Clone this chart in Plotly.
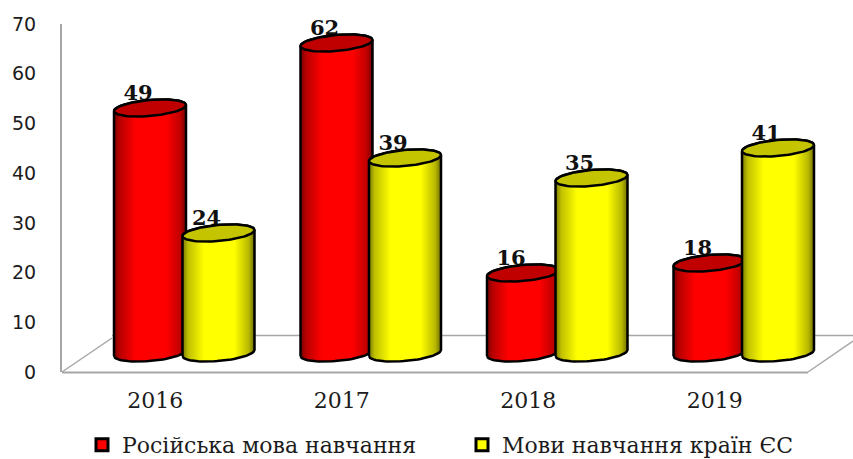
import numpy as np
import plotly.graph_objects as go

categories = ["2016", "2017", "2018", "2019"]
russian = [49, 62, 16, 18]
eu = [24, 39, 35, 41]
series_names = ["Російська мова навчання", "Мови навчання країн ЄС"]
y_ticks = [0, 10, 20, 30, 40, 50, 60, 70]

W, H = 853, 459
L, R, T, B = 62, 808, 24, 372
PLOT_R = 853
PX_X = (R - L) / 4
PX_Y = 5.0
Y_SHIFT = 19
X_SHIFT = 29
RX, RY, TILT = 36, 8, 3
OFF = 34.25

AXIS = "#A6A6A6"
TXT = "#1c1c1c"


def ellipse(cx, v, t):
    x = cx + RX / PX_X * np.cos(t)
    y = v + (RY * np.sin(t) + TILT * np.cos(t)) / PX_Y
    return x, y


def add_series(fig, vals, sign, name, legend, base, top, grad):
    xs = [i + sign * OFF / PX_X for i in range(len(vals))]
    fig.add_trace(go.Bar(x=xs, y=vals, width=0.34, name=name, xaxis="x2", yaxis="y2", legend=legend,
                         marker=dict(color=base, line=dict(color="black", width=3)),
                         showlegend=True))
    fig.add_trace(go.Scatter(x=[x - 12 / PX_X for x in xs], y=[v + 2.7 for v in vals],
                             text=[str(v) for v in vals], mode="text", xaxis="x2", yaxis="y2",
                             textposition="middle center", showlegend=False, hoverinfo="skip", cliponaxis=False,
                             textfont=dict(family="DejaVu Serif", size=21, color="#111111", weight="bold")))
    for x, v in zip(xs, vals):
        t1 = np.linspace(np.pi, 2 * np.pi, 40)
        t2 = np.linspace(0, np.pi, 40)
        bx, by = ellipse(x, 0, t1)
        ux, uy = ellipse(x, v, t2)
        fig.add_trace(go.Scatter(
            x=np.r_[bx, ux, bx[0]], y=np.r_[by, uy, by[0]], xaxis="x2", yaxis="y2",
            mode="lines", fill="toself", line=dict(color="black", width=2.5), cliponaxis=False,
            fillgradient=dict(type="horizontal", colorscale=grad),
            showlegend=False, hoverinfo="skip"))
        ex, ey = ellipse(x, v, np.linspace(0, 2 * np.pi, 80))
        fig.add_trace(go.Scatter(x=ex, y=ey, xaxis="x2", yaxis="y2", mode="lines", cliponaxis=False,
                                 fill="toself", fillcolor=top, line=dict(color="black", width=2.5),
                                 showlegend=False, hoverinfo="skip"))


fig = go.Figure()
fig.add_trace(go.Scatter(x=categories, y=[0, 0, 0, 0], mode="none", showlegend=False, hoverinfo="skip"))

red_grad = [[0, "#7a0000"], [0.08, "#b80000"], [0.3, "#ff0000"], [0.72, "#ff0000"], [0.92, "#c00000"], [1, "#700000"]]
yel_grad = [[0, "#7a7a00"], [0.08, "#c0c000"], [0.3, "#ffff00"], [0.72, "#ffff00"], [0.92, "#b8b800"], [1, "#6e6e00"]]
add_series(fig, russian, -1, series_names[0], "legend", "#ff0000", "#c00000", red_grad)
add_series(fig, eu, 1, series_names[1], "legend2", "#ffff00", "#c4c400", yel_grad)


def px(x):
    return (x - L) / (PLOT_R - L)


def py(y):
    return (B - y) / (B - T)


floor = [((L, 372), (112, 338)), ((112, 335.5), (853, 335.5)), ((808, 372), (853, 341))]
shapes = [dict(type="line", xref="paper", yref="paper", x0=px(a[0]), y0=py(a[1]), x1=px(b[0]), y1=py(b[1]),
               line=dict(color=AXIS, width=1.5), layer="below") for a, b in floor]
shapes.append(dict(type="line", xref="paper", yref="paper", x0=px(L), y0=py(372.5), x1=px(R), y1=py(372.5),
                   line=dict(color=AXIS, width=2), layer="below"))

span_y = (B - T) / PX_Y
extra = (PLOT_R - R) / PX_X
legend_font = dict(family="DejaVu Serif", size=22, color=TXT)
fig.update_layout(
    width=W, height=H, paper_bgcolor="white", plot_bgcolor="white",
    margin=dict(l=L, r=W - PLOT_R, t=T, b=H - B, pad=0, autoexpand=False),
    barmode="overlay", shapes=shapes,
    xaxis=dict(type="category", categoryorder="array", categoryarray=categories, range=[-0.5, 3.5 + extra],
               showgrid=False, zeroline=False,
               showline=False, ticks="", ticklabelstandoff=13,
               tickfont=dict(family="DejaVu Serif", size=22, color=TXT)),
    yaxis=dict(range=[0, 70], tickvals=y_ticks, showgrid=False, zeroline=False, showline=True,
               linecolor=AXIS, linewidth=2, ticks="", ticklabelstandoff=20,
               tickfont=dict(family="DejaVu Sans", size=19, color=TXT)),
    xaxis2=dict(overlaying="x", anchor="y2", visible=False,
                range=[-0.5 - X_SHIFT / PX_X, 3.5 + extra - X_SHIFT / PX_X]),
    yaxis2=dict(overlaying="y", anchor="x2", visible=False,
                range=[-Y_SHIFT / PX_Y, span_y - Y_SHIFT / PX_Y]),
    legend=dict(orientation="h", x=px(82), xanchor="left", y=py(445), yanchor="middle",
                bgcolor="rgba(0,0,0,0)", font=legend_font),
    legend2=dict(orientation="h", x=px(462), xanchor="left", y=py(445), yanchor="middle",
                 bgcolor="rgba(0,0,0,0)", font=legend_font),
)
fig.write_html("out.html", config={"displayModeBar": False}, post_script="document.body.style.margin='0';")
